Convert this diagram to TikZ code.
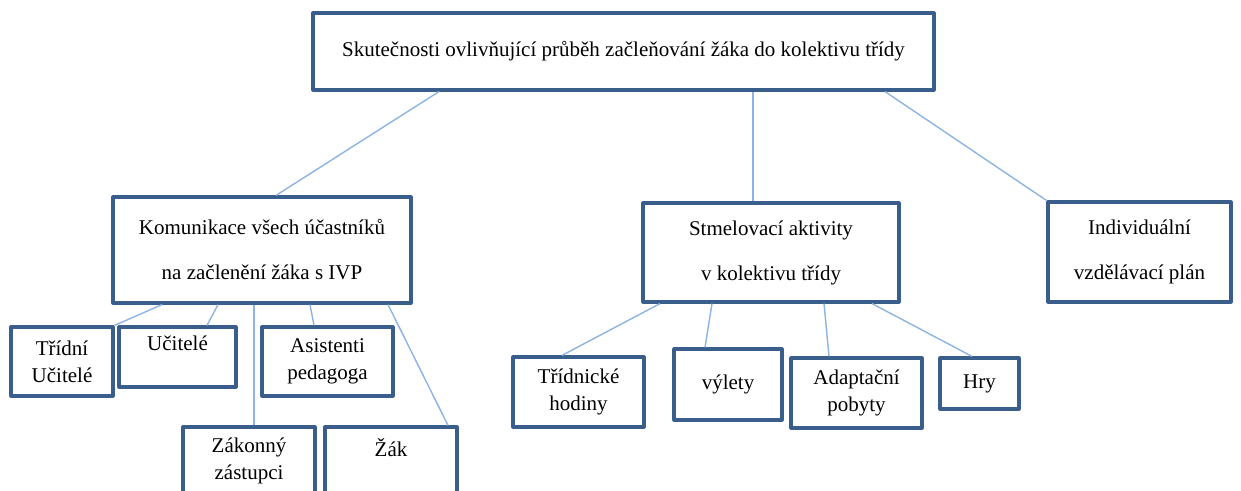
\documentclass[tikz,border=0pt]{standalone}
\usepackage{fontspec}
\setmainfont{Liberation Serif}
\usetikzlibrary{calc}
\definecolor{boxblue}{RGB}{58,94,140}
\definecolor{linkblue}{RGB}{141,179,226}
\begin{document}
\begin{tikzpicture}[x=0.5pt,y=-0.5pt, line join=round, font=\fontsize{10.5}{13.5}\selectfont]
	\tikzset{box/.style={draw=boxblue, line width=1.6pt, fill=white, inner sep=0pt, align=center},
		big/.style={box, font=\fontsize{10.5}{22.5}\selectfont},
		link/.style={draw=linkblue, line width=0.7pt}}
	\useasboundingbox (0,0) rectangle (1241,491);
	\clip (0,0) rectangle (1241,491);
	% root
	\node[box, minimum width=310.5pt, minimum height=38.5pt] (root) at (623.5,51.5)
	{Skutečnosti ovlivňující průběh začleňování žáka do kolektivu třídy};
	% second level
	\node[big, minimum width=149pt, minimum height=53pt] (kom) at (262,250)
	{Komunikace všech účastníků\\na začlenění žáka s IVP};
	\node[big, minimum width=128pt, minimum height=49.5pt] (stm) at (771,252.5)
	{Stmelovací aktivity\\v kolektivu třídy};
	\node[big, minimum width=91.5pt, minimum height=50pt] (ind) at (1139.5,252)
	{Individuální\\vzdělávací plán};
	% below kom
	\node[box, minimum width=51pt, minimum height=34.5pt] (tu) at (62,361.5) {Třídní\\Učitelé};
	\node[box, minimum width=58.5pt, minimum height=30pt] (uc) at (177.5,357) {Učitelé\\~};
	\node[box, minimum width=65.5pt, minimum height=34.5pt] (as) at (327.5,361.5) {Asistenti\\pedagoga};
	\node[box, minimum width=66pt, minimum height=34pt] (zak) at (249,461) {Zákonný\\zástupci};
	\node[box, minimum width=66pt, minimum height=34pt] (zk) at (391,461) {Žák\\~};
	% below stm
	\node[box, minimum width=65.5pt, minimum height=35pt] (th) at (578.5,392) {Třídnické\\hodiny};
	\node[box, minimum width=54pt, minimum height=35.5pt] (vy) at (728,384.5) {výlety};
	\node[box, minimum width=65.5pt, minimum height=35pt] (ad) at (856.5,393) {Adaptační\\pobyty};
	\node[box, minimum width=39.5pt, minimum height=25.5pt] (hry) at (979.5,383.5) {Hry};
	% links
	\draw[link] ($(root.south)+(-184.5,0)$) -- ($(kom.north)+(14,0)$);
	\draw[link] ($(root.south)+(129.5,0)$) -- ($(stm.north)+(-18,0)$);
	\draw[link] ($(root.south)+(261.5,0)$) -- (ind.north west);
	\draw[link] ($(kom.south)+(-100,0)$) -- (tu.north east);
	\draw[link] ($(kom.south)+(-44,0)$) -- ($(uc.north)+(29.5,0)$);
	\draw[link] ($(kom.south)+(-8,0)$) -- ($(zak.north)+(5,0)$);
	\draw[link] ($(kom.south)+(48,0)$) -- ($(as.north)+(-13.5,0)$);
	\draw[link] ($(kom.south)+(126,0)$) -- ($(zk.north)+(57,0)$);
	\draw[link] ($(stm.south)+(-111,0)$) -- ($(th.north)+(-16.5,0)$);
	\draw[link] ($(stm.south)+(-59,0)$) -- ($(vy.north)+(-23,0)$);
	\draw[link] ($(stm.south)+(53,0)$) -- ($(ad.north)+(-27.5,0)$);
	\draw[link] ($(stm.south)+(101,0)$) -- ($(hry.north)+(-7.5,0)$);
\end{tikzpicture}
\end{document}
